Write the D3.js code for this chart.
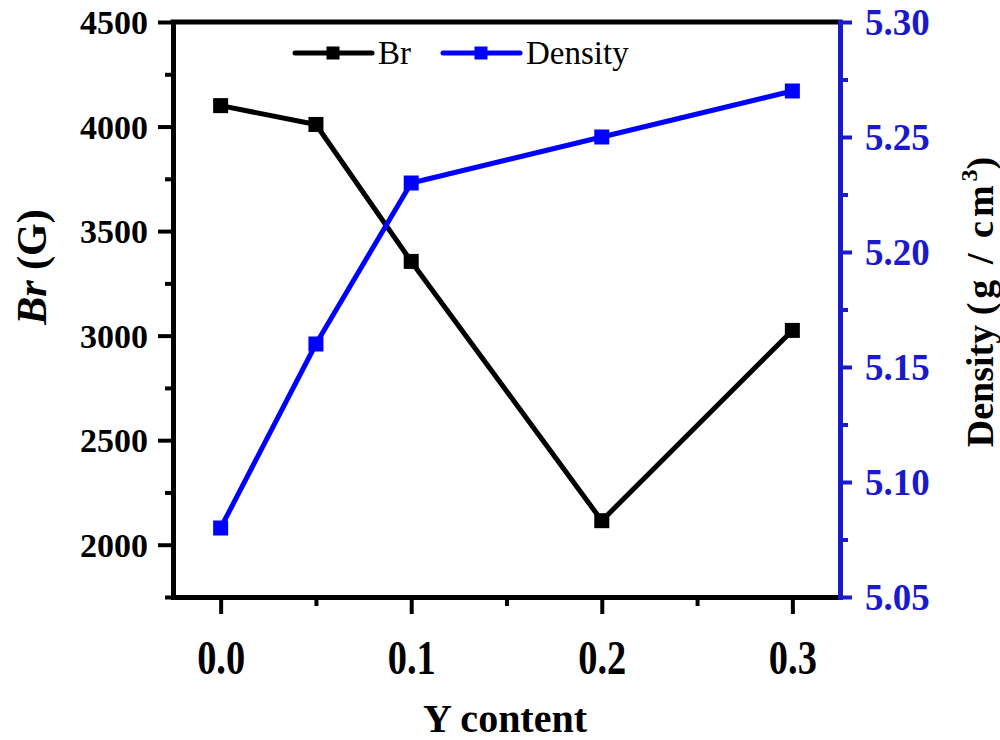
<!DOCTYPE html>
<html>
<head>
<meta charset="utf-8">
<script src="https://cdn.jsdelivr.net/npm/d3@7"></script>
<style>
  html, body { margin: 0; padding: 0; background: #fff; }
  svg { display: block; }
  text { font-family: "Liberation Serif", "Times New Roman", serif; }
</style>
</head>
<body>
<svg id="chart" width="1000" height="740"></svg>
<script>
// Y content (x), remanence Br (left axis) and density (right axis)
const yContent = [0, 0.05, 0.1, 0.2, 0.3];
const brValues = [4100, 4010, 3355, 2115, 3025];
const densityValues = [5.08, 5.16, 5.23, 5.25, 5.27];

const xTicks = [0, 0.1, 0.2, 0.3];
const xMinorTicks = [0.05, 0.15, 0.25];
const brTicks = [2000, 2500, 3000, 3500, 4000, 4500];
const brMinorTicks = [1750, 2250, 2750, 3250, 3750, 4250];
const densityTicks = [5.05, 5.10, 5.15, 5.20, 5.25, 5.30];
const densityMinorTicks = [5.075, 5.125, 5.175, 5.225, 5.275];

const seriesNames = ["Br", "Density"];

const BLACK = "#000";
const BLUE = "#0000ff";
const AXIS_BLUE = "#1a1acc";

const svg = d3.select("#chart");
const plotLeft = 173, plotRight = 840, plotTop = 22, plotBottom = 597;

const x = d3.scaleLinear().domain([-0.025, 0.325]).range([plotLeft, plotRight]);
const yBr = d3.scaleLinear().domain([1750, 4500]).range([plotBottom, plotTop]);
const yDen = d3.scaleLinear().domain([5.05, 5.30]).range([plotBottom, plotTop]);

function styleAxis(g, color) {
  g.select(".domain").attr("stroke", color).attr("stroke-width", 5).attr("stroke-linecap", "square");
  g.selectAll(".tick line").attr("stroke", color).attr("stroke-width", 4);
}

// top frame line
svg.append("line")
  .attr("x1", plotLeft).attr("x2", plotRight).attr("y1", plotTop).attr("y2", plotTop)
  .attr("stroke", BLACK).attr("stroke-width", 5).attr("stroke-linecap", "square");

// bottom axis
const gxMinor = svg.append("g").attr("transform", `translate(0,${plotBottom})`)
  .call(d3.axisBottom(x).tickValues(xMinorTicks).tickSize(9).tickFormat("").tickSizeOuter(0));
styleAxis(gxMinor, BLACK);
const gx = svg.append("g").attr("transform", `translate(0,${plotBottom})`)
  .call(d3.axisBottom(x).tickValues(xTicks).tickSize(17).tickFormat(d3.format(".1f")).tickSizeOuter(0));
styleAxis(gx, BLACK);
gx.selectAll(".tick text")
  .attr("y", 77)
  .attr("dy", 0)
  .attr("fill", BLACK)
  .attr("font-size", 48)
  .attr("font-weight", "bold")
  .attr("transform", "scale(0.8,1)")
  .attr("font-family", "'Liberation Serif', serif");

// left axis (Br)
const gyMinor = svg.append("g").attr("transform", `translate(${plotLeft},0)`)
  .call(d3.axisLeft(yBr).tickValues(brMinorTicks).tickSize(8).tickFormat("").tickSizeOuter(0));
styleAxis(gyMinor, BLACK);
const gy = svg.append("g").attr("transform", `translate(${plotLeft},0)`)
  .call(d3.axisLeft(yBr).tickValues(brTicks).tickSize(15).tickFormat(d3.format("d")).tickSizeOuter(0));
styleAxis(gy, BLACK);
gy.selectAll(".tick text")
  .attr("x", -25)
  .attr("dy", "0.34em")
  .attr("fill", BLACK)
  .attr("font-size", 34)
  .attr("font-weight", "bold")
  .attr("font-family", "'Liberation Serif', serif");

// right axis (density)
const grMinor = svg.append("g").attr("transform", `translate(${plotRight},0)`)
  .call(d3.axisRight(yDen).tickValues(densityMinorTicks).tickSize(8).tickFormat("").tickSizeOuter(0));
styleAxis(grMinor, AXIS_BLUE);
const gr = svg.append("g").attr("transform", `translate(${plotRight},0)`)
  .call(d3.axisRight(yDen).tickValues(densityTicks).tickSize(12).tickFormat(d3.format(".2f")).tickSizeOuter(0));
styleAxis(gr, AXIS_BLUE);
gr.selectAll(".tick text")
  .attr("x", 25)
  .attr("dy", "0.34em")
  .attr("fill", AXIS_BLUE)
  .attr("font-size", 37)
  .attr("font-weight", "bold")
  .attr("font-family", "'Liberation Serif', serif");

// axis titles
svg.append("text")
  .attr("x", 505).attr("y", 732)
  .attr("text-anchor", "middle")
  .attr("font-size", 40).attr("font-weight", "bold")
  .text("Y content");

const brTitle = svg.append("text")
  .attr("transform", "translate(46,267) rotate(-90)")
  .attr("text-anchor", "middle")
  .attr("font-size", 42).attr("font-weight", "bold");
brTitle.append("tspan").attr("font-style", "italic").text("Br");
brTitle.append("tspan").text(" (G)");

const denTitle = svg.append("text")
  .attr("transform", "translate(993,302) rotate(-90)")
  .attr("text-anchor", "middle")
  .attr("font-size", 38).attr("font-weight", "bold");
denTitle.append("tspan").text("Density ");
denTitle.append("tspan").attr("letter-spacing", 4).text("(g\u2009/\u2009cm");
denTitle.append("tspan").attr("font-size", 24).attr("dy", -16).text("3");
denTitle.append("tspan").attr("dy", 16).text(")");

// series
const rows = yContent.map((v, i) => ({ x: v, br: brValues[i], den: densityValues[i] }));
const series = [
  { name: seriesNames[0], color: BLACK, y: d => yBr(d.br) },
  { name: seriesNames[1], color: BLUE, y: d => yDen(d.den) }
];
const MARK = 15;

series.forEach(s => {
  const line = d3.line().x(d => x(d.x)).y(s.y);
  svg.append("path")
    .datum(rows)
    .attr("d", line)
    .attr("fill", "none")
    .attr("stroke", s.color)
    .attr("stroke-width", 5)
    .attr("stroke-linejoin", "round");
  svg.append("g").selectAll("rect")
    .data(rows)
    .join("rect")
    .attr("x", d => x(d.x) - MARK / 2)
    .attr("y", d => s.y(d) - MARK / 2)
    .attr("width", MARK)
    .attr("height", MARK)
    .attr("fill", s.color);
});

// legend
const legend = svg.append("g");
const legendItems = [
  { name: seriesNames[0], color: BLACK, x0: 295 },
  { name: seriesNames[1], color: BLUE, x0: 443 }
];
const ly = 53;
legendItems.forEach(it => {
  legend.append("line")
    .attr("x1", it.x0).attr("x2", it.x0 + 77)
    .attr("y1", ly).attr("y2", ly)
    .attr("stroke", it.color).attr("stroke-width", 5).attr("stroke-linecap", "round");
  legend.append("rect")
    .attr("x", it.x0 + 38 - 6.5).attr("y", ly - 6.5)
    .attr("width", 13).attr("height", 13)
    .attr("fill", it.color);
  legend.append("text")
    .attr("x", it.x0 + 83).attr("y", ly + 11)
    .attr("font-size", 33)
    .attr("fill", BLACK)
    .text(it.name);
});
</script>
</body>
</html>
